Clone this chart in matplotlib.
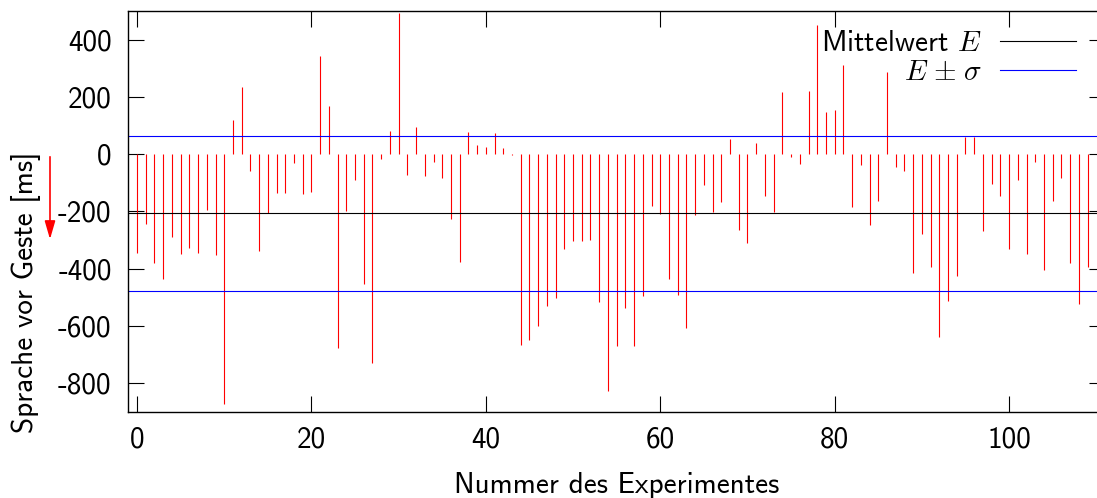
import numpy as np
import matplotlib
matplotlib.use('Agg')
import matplotlib.pyplot as plt

# Werte (Sprache vor Geste, ms)
experiment = list(range(110))
delay_ms = [-347, -244, -380, -437, -288, -349, -328, -344, -197, -353,
            -874, 118, 236, -58, -340, -206, -137, -135, -31, -141,
            -131, 344, 169, -677, -198, -91, -455, -729, -16, 82,
            492, -74, 96, -78, -27, -84, -225, -378, 78, 33,
            26, 75, 22, -3, -667, -648, -602, -532, -501, -330,
            -302, -302, -301, -515, -826, -669, -539, -670, -497, -181,
            -211, -437, -493, -607, -213, -108, -204, -166, 54, -265,
            -312, 39, -148, -204, 216, -11, -34, 222, 451, 148,
            153, 312, -184, -37, -246, -165, 286, -46, -58, -415,
            -278, -395, -639, -514, -427, 59, 59, -269, -105, -148,
            -332, -91, -349, -26, -406, -165, -84, -380, -523, -395]

mean_E = -206
sigma = 271

x_ticks = [0, 20, 40, 60, 80, 100]
y_ticks = [-800, -600, -400, -200, 0, 200, 400]

plt.rcParams['font.family'] = 'cmss10'
plt.rcParams['mathtext.fontset'] = 'cm'
plt.rcParams['axes.unicode_minus'] = False
plt.rcParams['font.size'] = 21

W, H = 1097, 498
fig = plt.figure(figsize=(W / 100, H / 100), dpi=100)

# achsen ragen rechts leicht aus dem bild (wie im original abgeschnitten)
left, right, top, bottom = 128.3, 1105, 11, 411.7
ax = fig.add_axes([left / W, 1 - bottom / H, (right - left) / W, (bottom - top) / H])

ax.vlines(experiment, 0, delay_ms, color='#ff0000', lw=0.8)
ax.axhline(mean_E, color='black', lw=0.8, label='Mittelwert $E$')
ax.axhline(mean_E + sigma, color='#0000ff', lw=0.8,
           label=r'$E\hspace{0.1}\pm\hspace{0.1}\sigma$')
ax.axhline(mean_E - sigma, color='#0000ff', lw=0.8)

ax.set_xlim(-1, 111)
ax.set_ylim(-900, 500)
ax.set_xticks(x_ticks)
ax.set_yticks(y_ticks)
ax.tick_params(direction='in', length=11.5, width=0.8, top=True, right=True)
ax.tick_params(axis='y', pad=12)
ax.tick_params(axis='x', pad=11)
for sp in ax.spines.values():
    sp.set_linewidth(1.0)

ax.set_xlabel('Nummer des Experimentes', labelpad=13)
fig.text(26 / W, 1 - 292 / H, 'Sprache vor Geste [ms]', rotation=90,
         ha='center', va='center')

# roter pfeil neben der y-beschriftung
ax.annotate('', xy=(50 / W, 1 - 242 / H), xytext=(50 / W, 1 - 154 / H),
            xycoords='figure fraction', textcoords='figure fraction',
            arrowprops=dict(arrowstyle='-|>,head_length=0.55,head_width=0.16',
                            color='#ff0000', lw=1.2, mutation_scale=20))

ax.legend(loc='upper right', bbox_to_anchor=(1076 / W, 1 - 30 / H),
          bbox_transform=fig.transFigure, frameon=False, markerfirst=False,
          handlelength=2.6, handletextpad=0.62, labelspacing=0.08,
          borderpad=0, borderaxespad=0)

fig.savefig('out.png', dpi=100)
